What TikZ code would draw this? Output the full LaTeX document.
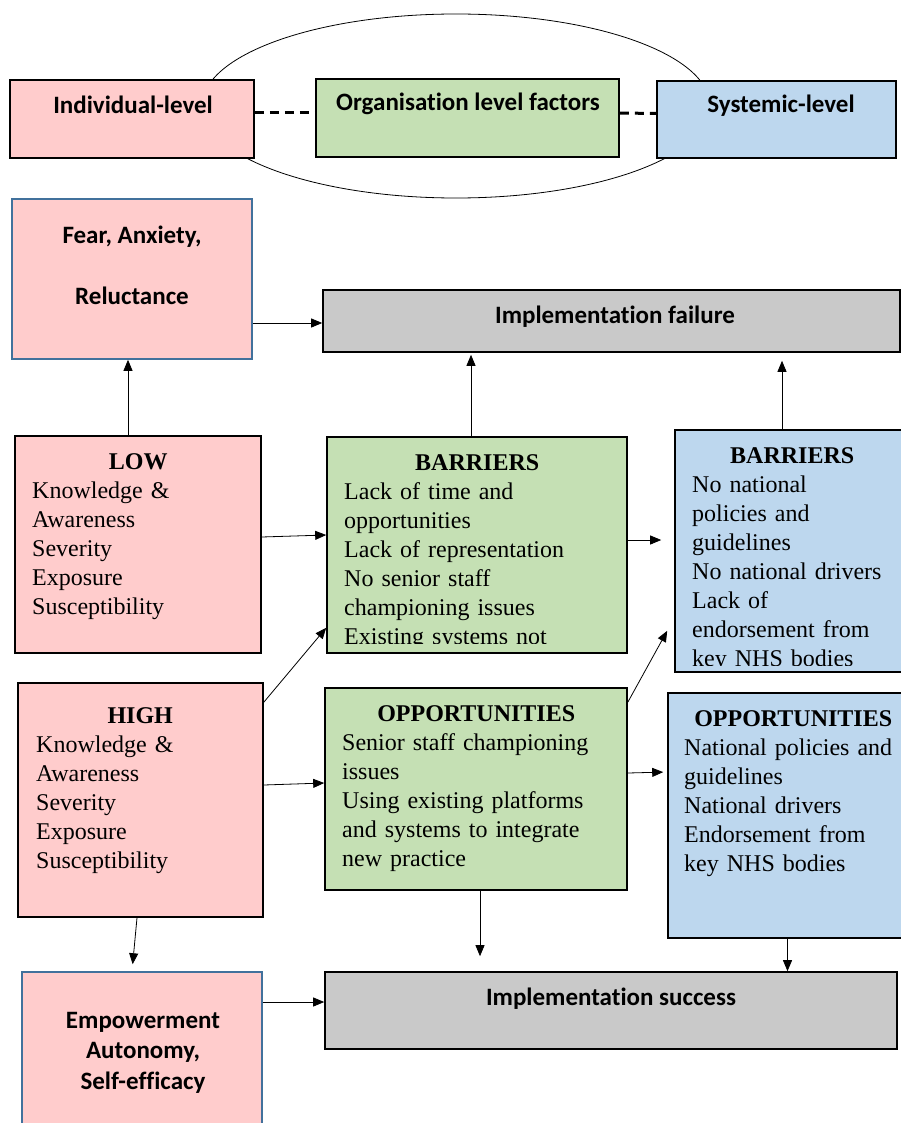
\documentclass[tikz,border=0pt]{standalone}
\usepackage{fontspec}
\setmainfont{Liberation Serif}
\newfontfamily\calibri[RawFeature=-liga]{Carlito}
\usetikzlibrary{arrows.meta,shapes.geometric}

\definecolor{pinkfill}{HTML}{FFCCCC}
\definecolor{greenfill}{HTML}{C5E0B4}
\definecolor{bluefill}{HTML}{BDD7EE}
\definecolor{greyfill}{HTML}{C9C9C9}
\definecolor{edgeblue}{HTML}{41719C}

\tikzset{
    panel/.style={draw=black, line width=1.6pt, inner sep=0pt},
    pinkpanel/.style={panel, fill=pinkfill},
    greenpanel/.style={panel, fill=greenfill},
    bluepanel/.style={panel, fill=bluefill},
    greypanel/.style={panel, fill=greyfill},
    feelpanel/.style={panel, fill=pinkfill, draw=edgeblue},
    head/.style={font=\calibri\bfseries\fontsize{25}{30}\selectfont, inner sep=0pt},
    body/.style={font=\fontsize{24}{29}\selectfont, inner sep=0pt, align=left, anchor=north west},
    arr/.style={-{Triangle[length=11pt,width=9pt]}, line width=0.8pt},
    dots/.style={line width=3pt, dash pattern=on 9pt off 6pt}
}
\newcommand{\ttl}[1]{\makebox[\linewidth]{\textbf{#1}}}

\begin{document}
\begin{tikzpicture}[x=1pt, y=-1pt]
    \useasboundingbox (0,0) rectangle (901,1123);

    % levels
    \node[ellipse, draw, line width=0.8pt, minimum width=508pt, minimum height=184pt] (frame) at (456,106) {};
    \node[pinkpanel, minimum width=244pt, minimum height=78pt] (indiv) at (132,119) {};
    \node[greenpanel, minimum width=303pt, minimum height=78pt] (org) at (467.5,118) {};
    \node[bluepanel, minimum width=239pt, minimum height=77pt] (sys) at (776.5,119.5) {};
    \node[head] (indivtxt) at (133,105) {Individual-level};
    \node[head] (orgtxt) at (468,104) {Organisation level factors};
    \node[head] (systxt) at (781,106) {Systemic-level};
    \draw[dots] ([yshift=6pt]indiv.east) -- ([yshift=5pt]org.west);
    \draw[dots] ([yshift=5pt]org.east) -- ([yshift=6pt]sys.west);

    % outcomes
    \node[feelpanel, minimum width=240pt, minimum height=160pt] (fear) at (132,279) {};
    \node[head, align=center] (feartxt) at (132,265) {Fear, Anxiety,\\[31pt]Reluctance};
    \node[greypanel, minimum width=577pt, minimum height=62pt] (fail) at (611.5,321) {};
    \node[head] (failtxt) at (615,317) {Implementation failure};

    % barriers
    \node[pinkpanel, minimum width=246pt, minimum height=217pt] (low) at (138,544.5) {};
    \node[body, text width=212pt] (lowtxt) at (32,453) {\ttl{LOW}\\Knowledge \&\\Awareness\\Severity\\Exposure\\Susceptibility};
    \node[greenpanel, minimum width=300pt, minimum height=216pt] (obar) at (477,545) {};
    \begin{scope}
        \clip (obar.north west) rectangle ([yshift=10pt]obar.south east);
        \node[body, text width=266pt] (obartxt) at (344,454) {\ttl{BARRIERS}\\Lack of time and\\opportunities\\Lack of representation\\No senior staff\\championing issues\\Existing systems not\\fit for purpose};
    \end{scope}
    \node[bluepanel, minimum width=230pt, minimum height=242pt] (sbar) at (790,551) {};
    \begin{scope}
        \clip (sbar.north west) rectangle ([yshift=7pt]sbar.south east);
        \node[body, text width=200pt] (sbartxt) at (692,447) {\ttl{BARRIERS}\\No national\\policies and\\guidelines\\No national drivers\\Lack of\\endorsement from\\key NHS bodies};
    \end{scope}

    % opportunities
    \node[pinkpanel, minimum width=245pt, minimum height=234pt] (high) at (140.5,800) {};
    \node[body, text width=208pt] (hightxt) at (36,707) {\ttl{HIGH}\\Knowledge \&\\Awareness\\Severity\\Exposure\\Susceptibility};
    \node[greenpanel, minimum width=302pt, minimum height=202pt] (oopp) at (476,789) {};
    \node[body, text width=268pt] (oopptxt) at (342,705) {\ttl{OPPORTUNITIES}\\Senior staff championing\\issues\\Using existing platforms\\and systems to integrate\\new practice};
    \node[bluepanel, minimum width=236pt, minimum height=245pt] (sopp) at (786,815.5) {};
    \node[body, text width=218pt] (sopptxt) at (684,710) {\ttl{OPPORTUNITIES}\\National policies and\\guidelines\\National drivers\\Endorsement from\\key NHS bodies};

    \node[feelpanel, minimum width=240pt, minimum height=158pt] (emp) at (142,1051) {};
    \node[head, align=center, font=\calibri\bfseries\fontsize{25}{30.5}\selectfont] (emptxt) at (143,1052.5) {Empowerment\\Autonomy,\\Self-efficacy};
    \node[greypanel, minimum width=572pt, minimum height=77pt] (succ) at (611,1010.5) {};
    \node[head] (succtxt) at (611,999) {Implementation success};

    % arrows
    \draw[arr] ([yshift=-44pt]fear.east) -- ([yshift=-2pt]fail.west);
    \draw[arr] ([xshift=-10pt]low.north) -- ([xshift=-4pt]fear.south);
    \draw[arr, shorten >=2pt] ([xshift=-6pt]obar.north) -- ([xshift=-6pt]obar.north |- fail.south);
    \draw[arr, shorten >=8pt] ([xshift=-8pt]sbar.north) -- ([xshift=-8pt]sbar.north |- fail.south);
    \draw[arr] ([yshift=7.5pt]low.east) -- ([yshift=10pt]obar.west);
    \draw[arr] ([yshift=-20pt]high.north east) -- ([yshift=26pt]obar.south west);
    \draw[arr] ([yshift=15pt]high.east) -- ([yshift=6pt]oopp.west);
    \draw[arr, shorten >=13pt] ([yshift=5pt]obar.east) -- ([yshift=11pt]sbar.west);
    \draw[arr] ([yshift=-15pt]oopp.north east) -- ([xshift=-7pt, yshift=42pt]sbar.south west);
    \draw[arr, shorten >=4pt] ([yshift=16pt]oopp.east) -- ([yshift=43.5pt]sopp.west);
    \draw[arr, shorten >=7pt] ([xshift=-3.5pt]high.south) -- ([xshift=-10pt]emp.north);
    \draw[arr, shorten >=15pt] ([xshift=4pt]oopp.south) -- ([xshift=4pt]oopp.south |- succ.north);
    \draw[arr] ([xshift=1.5pt]sopp.south) -- ([xshift=1.5pt]sopp.south |- succ.north);
    \draw[arr] ([yshift=49pt]emp.east) -- ([yshift=8.5pt]succ.west);
\end{tikzpicture}
\end{document}
